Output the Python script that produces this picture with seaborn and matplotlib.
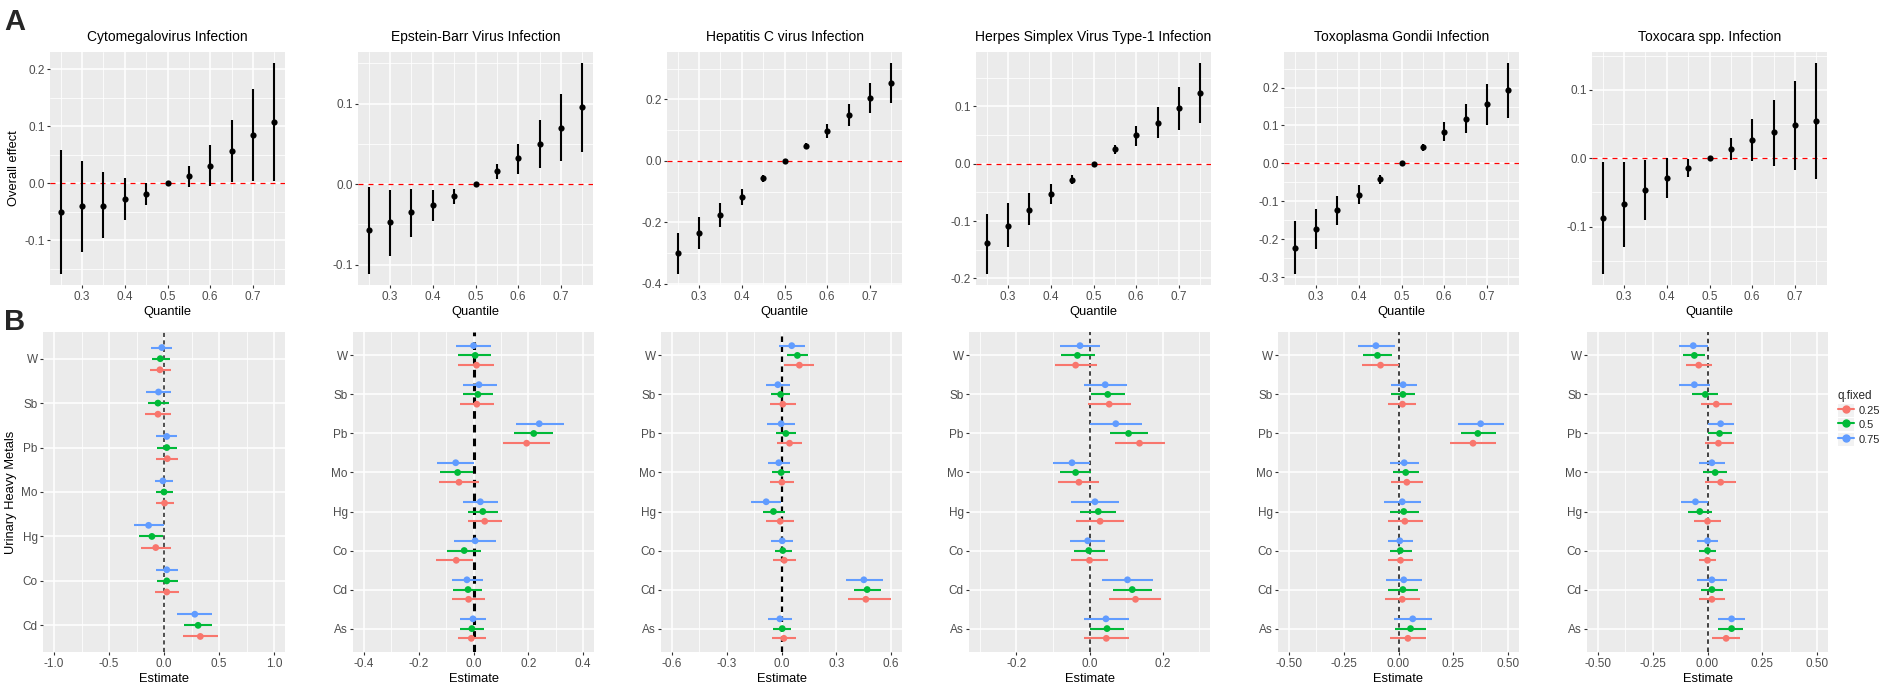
import numpy as np
import pandas as pd
import matplotlib
matplotlib.use("Agg")
import matplotlib.pyplot as plt
import seaborn as sns
from matplotlib.ticker import MultipleLocator, FormatStrFormatter
from matplotlib.lines import Line2D
from matplotlib.patches import Rectangle

# -------------------------------
# data
# -------------------------------
quantiles = [0.25, 0.30, 0.35, 0.40, 0.45, 0.50, 0.55, 0.60, 0.65, 0.70, 0.75]

titles = ["Cytomegalovirus Infection", "Epstein-Barr Virus Infection",
          "Hepatitis C virus Infection", "Herpes Simplex Virus Type-1 Infection",
          "Toxoplasma Gondii Infection", "Toxocara spp. Infection"]

# (A) overall effect by quantile
cmv_eff = [-0.050, -0.040, -0.039, -0.028, -0.018, 0.0, 0.013, 0.030, 0.057, 0.084, 0.108]
cmv_eff_lo = [-0.160, -0.120, -0.096, -0.065, -0.038, 0.0, -0.007, -0.005, 0.002, 0.004, 0.004]
cmv_eff_hi = [0.058, 0.040, 0.020, 0.009, 0.000, 0.0, 0.031, 0.067, 0.112, 0.165, 0.212]

ebv_eff = [-0.057, -0.047, -0.035, -0.026, -0.015, 0.0, 0.016, 0.032, 0.050, 0.070, 0.096]
ebv_eff_lo = [-0.112, -0.089, -0.065, -0.046, -0.025, 0.0, 0.006, 0.013, 0.020, 0.029, 0.040]
ebv_eff_hi = [-0.004, -0.007, -0.006, -0.007, -0.006, 0.0, 0.025, 0.050, 0.080, 0.112, 0.151]

hcv_eff = [-0.300, -0.234, -0.176, -0.117, -0.057, 0.0, 0.049, 0.098, 0.149, 0.204, 0.255]
hcv_eff_lo = [-0.369, -0.285, -0.216, -0.142, -0.069, 0.0, 0.038, 0.076, 0.115, 0.156, 0.187]
hcv_eff_hi = [-0.234, -0.183, -0.138, -0.092, -0.046, 0.0, 0.058, 0.121, 0.184, 0.254, 0.320]

hsv_eff = [-0.139, -0.108, -0.080, -0.053, -0.028, 0.0, 0.025, 0.049, 0.071, 0.097, 0.123]
hsv_eff_lo = [-0.193, -0.146, -0.107, -0.071, -0.036, 0.0, 0.017, 0.031, 0.044, 0.058, 0.070]
hsv_eff_hi = [-0.087, -0.068, -0.052, -0.035, -0.019, 0.0, 0.033, 0.066, 0.098, 0.134, 0.176]

tg_eff = [-0.222, -0.173, -0.123, -0.083, -0.042, 0.0, 0.043, 0.083, 0.118, 0.157, 0.193]
tg_eff_lo = [-0.293, -0.225, -0.162, -0.108, -0.054, 0.0, 0.032, 0.059, 0.079, 0.101, 0.120]
tg_eff_hi = [-0.153, -0.120, -0.085, -0.058, -0.030, 0.0, 0.050, 0.108, 0.158, 0.210, 0.266]

toxo_eff = [-0.087, -0.067, -0.046, -0.029, -0.014, 0.0, 0.013, 0.027, 0.038, 0.048, 0.055]
toxo_eff_lo = [-0.170, -0.130, -0.090, -0.058, -0.028, 0.0, -0.003, -0.004, -0.011, -0.017, -0.030]
toxo_eff_hi = [-0.006, -0.006, -0.002, 0.000, -0.001, 0.0, 0.029, 0.058, 0.085, 0.113, 0.140]

# (B) single metal estimates, rows = metals, columns = q.fixed 0.25 / 0.5 / 0.75
q_levels = ["0.25", "0.5", "0.75"]
metals_cmv = ["W", "Sb", "Pb", "Mo", "Hg", "Co", "Cd"]
metals_all = ["W", "Sb", "Pb", "Mo", "Hg", "Co", "Cd", "As"]

cmv_est = [[-0.037, -0.034, -0.020], [-0.055, -0.055, -0.050], [0.030, 0.025, 0.025],
           [0.005, 0.000, -0.010], [-0.075, -0.110, -0.140], [0.025, 0.025, 0.025],
           [0.330, 0.310, 0.280]]
cmv_lo = [[-0.130, -0.110, -0.120], [-0.170, -0.150, -0.160], [-0.075, -0.065, -0.075],
          [-0.075, -0.075, -0.080], [-0.210, -0.230, -0.270], [-0.085, -0.065, -0.075],
          [0.170, 0.180, 0.115]]
cmv_hi = [[0.060, 0.055, 0.070], [0.060, 0.045, 0.060], [0.130, 0.120, 0.120],
          [0.090, 0.080, 0.080], [0.060, -0.005, 0.000], [0.140, 0.130, 0.130],
          [0.490, 0.440, 0.440]]

ebv_est = [[0.011, 0.006, 0.000], [0.012, 0.016, 0.020], [0.194, 0.220, 0.240],
           [-0.053, -0.058, -0.065], [0.041, 0.034, 0.025], [-0.063, -0.034, 0.006],
           [-0.018, -0.020, -0.024], [-0.008, -0.006, -0.002]]
ebv_lo = [[-0.055, -0.055, -0.063], [-0.048, -0.038, -0.040], [0.108, 0.148, 0.155],
          [-0.127, -0.124, -0.133], [-0.020, -0.020, -0.038], [-0.136, -0.097, -0.070],
          [-0.079, -0.074, -0.080], [-0.056, -0.051, -0.051]]
ebv_hi = [[0.075, 0.065, 0.065], [0.075, 0.073, 0.084], [0.280, 0.290, 0.330],
          [0.020, -0.002, 0.000], [0.105, 0.090, 0.090], [-0.002, 0.029, 0.081],
          [0.041, 0.030, 0.034], [0.044, 0.039, 0.046]]

hcv_est = [[0.098, 0.087, 0.056], [0.007, -0.005, -0.020], [0.044, 0.024, -0.002],
           [0.002, -0.002, -0.015], [-0.007, -0.044, -0.084], [0.015, 0.007, 0.004],
           [0.462, 0.469, 0.451], [0.013, 0.004, -0.009]]
hcv_lo = [[0.016, 0.031, -0.011], [-0.064, -0.058, -0.087], [-0.024, -0.031, -0.078],
          [-0.064, -0.051, -0.075], [-0.084, -0.102, -0.167], [-0.047, -0.038, -0.058],
          [0.362, 0.398, 0.353], [-0.051, -0.047, -0.073]]
hcv_hi = [[0.176, 0.147, 0.131], [0.078, 0.047, 0.049], [0.115, 0.078, 0.075],
          [0.069, 0.045, 0.045], [0.069, 0.020, -0.002], [0.078, 0.058, 0.065],
          [0.600, 0.547, 0.555], [0.078, 0.053, 0.056]]

hsv_est = [[-0.038, -0.033, -0.026], [0.054, 0.050, 0.043], [0.137, 0.107, 0.072],
           [-0.029, -0.038, -0.048], [0.029, 0.024, 0.015], [0.000, -0.002, -0.005],
           [0.126, 0.117, 0.104], [0.046, 0.048, 0.045]]
hsv_lo = [[-0.094, -0.077, -0.081], [-0.004, 0.005, -0.016], [0.070, 0.055, 0.000],
          [-0.087, -0.081, -0.100], [-0.036, -0.027, -0.051], [-0.052, -0.043, -0.053],
          [0.054, 0.065, 0.035], [-0.016, 0.000, -0.016]]
hsv_hi = [[0.021, 0.015, 0.030], [0.113, 0.098, 0.103], [0.208, 0.161, 0.145],
          [0.027, 0.003, 0.001], [0.094, 0.073, 0.081], [0.052, 0.042, 0.043],
          [0.197, 0.170, 0.175], [0.108, 0.095, 0.108]]

tg_est = [[-0.082, -0.096, -0.103], [0.018, 0.020, 0.021], [0.340, 0.362, 0.375],
          [0.038, 0.033, 0.026], [0.029, 0.024, 0.017], [0.009, 0.008, 0.006],
          [0.017, 0.020, 0.024], [0.043, 0.055, 0.065]]
tg_lo = [[-0.167, -0.161, -0.187], [-0.046, -0.032, -0.036], [0.234, 0.283, 0.272],
         [-0.033, -0.024, -0.038], [-0.049, -0.041, -0.067], [-0.049, -0.041, -0.050],
         [-0.062, -0.046, -0.055], [-0.041, -0.017, -0.021]]
tg_hi = [[0.000, -0.029, -0.018], [0.082, 0.076, 0.085], [0.447, 0.444, 0.483],
         [0.114, 0.093, 0.093], [0.111, 0.093, 0.102], [0.068, 0.061, 0.065],
         [0.097, 0.088, 0.105], [0.125, 0.125, 0.155]]

toxo_est = [[-0.040, -0.060, -0.065], [0.040, -0.010, -0.060], [0.050, 0.055, 0.060],
            [0.060, 0.035, 0.020], [0.000, -0.035, -0.055], [0.000, 0.000, 0.000],
            [0.020, 0.020, 0.020], [0.085, 0.110, 0.110]]
toxo_lo = [[-0.100, -0.110, -0.130], [-0.030, -0.070, -0.130], [-0.010, 0.000, 0.000],
           [-0.010, -0.020, -0.040], [-0.060, -0.090, -0.120], [-0.040, -0.040, -0.050],
           [-0.040, -0.030, -0.050], [0.020, 0.050, 0.050]]
toxo_hi = [[0.020, -0.010, 0.000], [0.110, 0.050, 0.010], [0.120, 0.110, 0.120],
           [0.130, 0.090, 0.080], [0.060, 0.020, 0.000], [0.040, 0.040, 0.050],
           [0.080, 0.070, 0.090], [0.150, 0.160, 0.170]]

# -------------------------------
# style
# -------------------------------
palette = {"0.25": "#F8766D", "0.5": "#00BA38", "0.75": "#619CFF"}

sns.set_theme(style="darkgrid", rc={
    "axes.facecolor": "#EBEBEB", "grid.color": "white",
    "xtick.bottom": True, "ytick.left": True,
    "xtick.major.size": 2.5, "ytick.major.size": 2.5,
    "xtick.minor.size": 0, "ytick.minor.size": 0,
    "xtick.major.width": 0.8, "ytick.major.width": 0.8,
    "xtick.color": "#333333", "ytick.color": "#333333",
    "xtick.labelcolor": "#4D4D4D", "ytick.labelcolor": "#4D4D4D",
    "xtick.labelsize": 8.5, "ytick.labelsize": 8.5,
    "xtick.major.pad": 1.8, "ytick.major.pad": 1.2,
})
plt.rcParams["font.family"] = ["Liberation Sans", "DejaVu Sans"]
plt.rcParams["axes.unicode_minus"] = False

W, H = 1904, 688
fig = plt.figure(figsize=(W / 100, H / 100), dpi=100)


def px_axes(left, top, width, height):
    return fig.add_axes([left / W, 1 - (top + height) / H, width / W, height / H])


# -------------------------------
# (A) overall effect
# -------------------------------
top_sets = [(cmv_eff, cmv_eff_lo, cmv_eff_hi, 0.1), (ebv_eff, ebv_eff_lo, ebv_eff_hi, 0.1),
            (hcv_eff, hcv_eff_lo, hcv_eff_hi, 0.2), (hsv_eff, hsv_eff_lo, hsv_eff_hi, 0.1),
            (tg_eff, tg_eff_lo, tg_eff_hi, 0.1), (toxo_eff, toxo_eff_lo, toxo_eff_hi, 0.1)]
top_left = [50, 358, 667, 976, 1284, 1592]

for i, (eff, lo, hi, ystep) in enumerate(top_sets):
    ax = px_axes(top_left[i], 52, 235, 233)
    ax.axhline(0, color="red", lw=0.9, ls=(0, (4, 4)), zorder=1.5)
    ax.vlines(quantiles, lo, hi, color="black", lw=1.5, zorder=2)
    sns.scatterplot(x=quantiles, y=eff, color="black", s=20, linewidth=0, ax=ax, zorder=3)
    ax.set_xlim(0.225, 0.775)
    ax.margins(y=0.05)
    ax.xaxis.set_major_locator(MultipleLocator(0.1))
    ax.xaxis.set_minor_locator(MultipleLocator(0.05))
    ax.xaxis.set_major_formatter(FormatStrFormatter("%.1f"))
    ax.yaxis.set_major_locator(MultipleLocator(ystep))
    ax.yaxis.set_minor_locator(MultipleLocator(ystep / 2))
    ax.yaxis.set_major_formatter(FormatStrFormatter("%.1f"))
    ax.grid(which="major", color="white", lw=1.1)
    ax.grid(which="minor", color="white", lw=0.55)
    for s in ax.spines.values():
        s.set_visible(False)
    ax.set_title(titles[i], fontsize=10, pad=8, color="black")
    ax.set_xlabel("Quantile", fontsize=9.3, labelpad=2, color="black")
    ax.set_ylabel("Overall effect" if i == 0 else "", fontsize=9.3, labelpad=3, color="black")

# -------------------------------
# (B) single metal estimates
# -------------------------------
bottom_sets = [(metals_cmv, cmv_est, cmv_lo, cmv_hi, 1.0, 0.5, "%.1f"),
               (metals_all, ebv_est, ebv_lo, ebv_hi, 0.4, 0.2, "%.1f"),
               (metals_all, hcv_est, hcv_lo, hcv_hi, 0.6, 0.3, "%.1f"),
               (metals_all, hsv_est, hsv_lo, hsv_hi, 0.3, 0.2, "%.1f"),
               (metals_all, tg_est, tg_lo, tg_hi, 0.5, 0.25, "%.2f"),
               (metals_all, toxo_est, toxo_lo, toxo_hi, 0.5, 0.25, "%.2f")]
bottom_left = [43, 353, 661, 969, 1278, 1587]
zero_lw = [1.2, 2.2, 1.6, 1.3, 1.3, 1.3]
zero_col = ["#333333", "black", "black", "#333333", "#333333", "#333333"]
dodge = {"0.25": 0.25, "0.5": 0.0, "0.75": -0.25}

for i, (metals, est, lo, hi, lim, xstep, fmt) in enumerate(bottom_sets):
    ax = px_axes(bottom_left[i], 332, 241 if i else 242, 320)
    rows = []
    for j, m in enumerate(metals):
        for k, q in enumerate(q_levels):
            rows.append({"metal": m, "q": q, "pos": j + dodge[q],
                         "est": est[j][k], "lo": lo[j][k], "hi": hi[j][k]})
    df = pd.DataFrame(rows)
    ax.axvline(0, color=zero_col[i], lw=zero_lw[i], ls=(0, (2.5, 2)), zorder=1.5)
    ax.hlines(df["pos"], df["lo"], df["hi"], colors=df["q"].map(palette), lw=1.5, zorder=2)
    sns.scatterplot(data=df, x="est", y="pos", hue="q", palette=palette, s=24,
                    linewidth=0, legend=False, ax=ax, zorder=3)
    ax.set_ylim(len(metals) - 1 + 0.6, -0.6)
    ax.set_yticks(range(len(metals)), metals)
    ax.set_xlim(-lim * 1.1, lim * 1.1)
    ax.xaxis.set_major_locator(MultipleLocator(xstep))
    ax.xaxis.set_minor_locator(MultipleLocator(xstep / 2))
    ax.xaxis.set_major_formatter(FormatStrFormatter(fmt))
    ax.grid(which="major", color="white", lw=1.1)
    ax.grid(which="minor", axis="x", color="white", lw=0.55)
    for s in ax.spines.values():
        s.set_visible(False)
    ax.set_xlabel("Estimate", fontsize=9.3, labelpad=2, color="black")
    ax.set_ylabel("Urinary Heavy Metals" if i == 0 else "", fontsize=9.3, labelpad=3,
                  color="black")

# legend with grey key boxes like ggplot
handles = [(Rectangle((0, 0), 1, 1, fc="#F2F2F2", ec="none"),
            Line2D([0], [0], color=palette[q], marker="o", ms=5, lw=1.5)) for q in q_levels]
leg = fig.legend(handles, q_levels, title="q.fixed", loc="upper left",
                 bbox_to_anchor=(1828 / W, 1 - 380 / H), frameon=False,
                 fontsize=8, title_fontsize=8.5, handlelength=1.4, handleheight=1.4,
                 labelspacing=0.15, handletextpad=0.5, alignment="left")

# panel letters
fig.text(4 / W, 1 - 30 / H, "A", fontsize=21, fontweight="bold", va="baseline")
fig.text(4 / W, 1 - 330 / H, "B", fontsize=21, fontweight="bold", va="baseline")

fig.savefig("out.png", dpi=100)
